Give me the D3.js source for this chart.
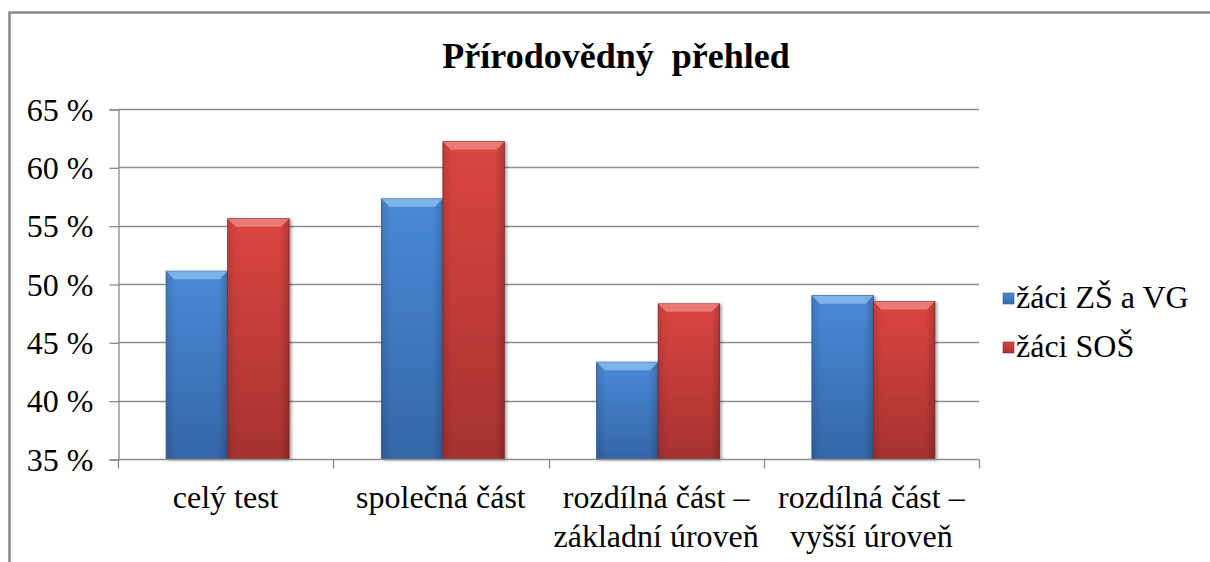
<!DOCTYPE html>
<html>
<head>
<meta charset="utf-8">
<script src="https://cdn.jsdelivr.net/npm/d3@7"></script>
<style>
  body { margin: 0; background: #fff; }
  svg text { font-family: "Liberation Serif", "Times New Roman", serif; fill: #000; }
</style>
</head>
<body>
<script>
// data
var title = "Přírodovědný  přehled";
var categories = [["celý test"], ["společná část"], ["rozdílná část –", "základní úroveň"], ["rozdílná část –", "vyšší úroveň"]];
var seriesNames = ["žáci ZŠ a VG", "žáci SOŠ"];
var zsValues = [51.1, 57.3, 43.3, 49.0];
var sosValues = [55.6, 62.2, 48.3, 48.5];
var yTicks = [35, 40, 45, 50, 55, 60, 65];

var width = 1210, height = 562;
var FONT = "Liberation Serif";
var svg = d3.select("body").append("svg")
    .attr("width", width).attr("height", height);

var defs = svg.append("defs");
var colors = [
  {id: "blue", top: "#4a89d6", bot: "#3566a8", edge: "#2d5a97", bevel: "#8fc1f2"},
  {id: "red", top: "#db4542", bot: "#a73230", edge: "#8f2a28", bevel: "#f08c88"}
];
colors.forEach(function(c){
  var g = defs.append("linearGradient").attr("id", "g_" + c.id)
      .attr("x1", 0).attr("y1", 0).attr("x2", 0).attr("y2", 1);
  g.append("stop").attr("offset", "0%").attr("stop-color", c.top);
  g.append("stop").attr("offset", "100%").attr("stop-color", c.bot);
  var h = defs.append("linearGradient").attr("id", "h_" + c.id)
      .attr("x1", 0).attr("y1", 0).attr("x2", 1).attr("y2", 0);
  h.append("stop").attr("offset", "0%").attr("stop-color", "#000").attr("stop-opacity", 0.12);
  h.append("stop").attr("offset", "15%").attr("stop-color", "#000").attr("stop-opacity", 0);
  h.append("stop").attr("offset", "85%").attr("stop-color", "#000").attr("stop-opacity", 0);
  h.append("stop").attr("offset", "100%").attr("stop-color", "#000").attr("stop-opacity", 0.18);
});
var f = defs.append("filter").attr("id", "shadow")
    .attr("x", "-10%").attr("y", "-10%").attr("width", "130%").attr("height", "120%");
f.append("feDropShadow").attr("dx", 2).attr("dy", 1).attr("stdDeviation", 1.5)
    .attr("flood-color", "#000").attr("flood-opacity", 0.35);

// frame
svg.append("path")
    .attr("d", "M9.5," + height + "V12.5H" + width)
    .attr("fill", "none").attr("stroke", "#888").attr("stroke-width", 2.5);

// title
svg.append("text")
    .attr("x", 616).attr("y", 68)
    .attr("text-anchor", "middle")
    .attr("font-family", FONT)
    .attr("font-size", 36).attr("font-weight", "bold")
    .style("white-space", "pre")
    .text(title);

var pLeft = 118, pRight = 979, pTop = 109, pBottom = 459;

var y = d3.scaleLinear().domain([35, 65]).range([pBottom, pTop]);
var x0 = d3.scaleBand().domain(d3.range(categories.length)).range([pLeft, pRight]);
var bw = x0.bandwidth() / 3.5;
var x1 = d3.scaleBand().domain([0, 1])
    .range([x0.bandwidth() * 0.75 / 3.5 + 2, x0.bandwidth() * 0.75 / 3.5 + 2 + 2 * bw]);

// gridlines
svg.append("g").selectAll("line").data(yTicks.slice(1)).join("line")
    .attr("x1", pLeft).attr("x2", pRight)
    .attr("y1", function(d){ return Math.round(y(d)) + 0.5; })
    .attr("y2", function(d){ return Math.round(y(d)) + 0.5; })
    .attr("stroke", "#8c8c8c").attr("stroke-width", 1.3);

// y axis
var yAxis = svg.append("g").attr("transform", "translate(" + (pLeft + 0.5) + ",0.5)")
    .call(d3.axisLeft(y).tickValues(yTicks).tickSize(9).tickPadding(16)
      .tickFormat(function(d){ return d + " %"; }));
yAxis.attr("font-family", FONT).attr("font-size", 32);
yAxis.select(".domain").attr("stroke", "#8c8c8c").attr("stroke-width", 1.3);
yAxis.selectAll(".tick line").attr("stroke", "#8c8c8c").attr("stroke-width", 1.3);
yAxis.selectAll(".tick text").attr("fill", "#000").attr("dy", "0.33em");

// bars
var rows = categories.map(function(c, i){ return [zsValues[i], sosValues[i]]; });
var groups = svg.append("g").selectAll("g").data(rows).join("g")
    .attr("transform", function(d, i){ return "translate(" + x0(i) + ",0)"; });

var bars = groups.selectAll("g").data(function(d){ return d; }).join("g")
    .attr("filter", "url(#shadow)");
bars.append("rect")
    .attr("x", function(d, j){ return x1(j); })
    .attr("y", function(d){ return y(d); })
    .attr("width", bw)
    .attr("height", function(d){ return pBottom - y(d); })
    .attr("fill", function(d, j){ return "url(#g_" + colors[j].id + ")"; })
    .attr("stroke", function(d, j){ return colors[j].edge; })
    .attr("stroke-width", 0.8);
bars.append("rect")
    .attr("x", function(d, j){ return x1(j); })
    .attr("y", function(d){ return y(d); })
    .attr("width", bw)
    .attr("height", function(d){ return pBottom - y(d); })
    .attr("fill", function(d, j){ return "url(#h_" + colors[j].id + ")"; });
// bevel on top
bars.append("path")
    .attr("d", function(d, j){
      var xa = x1(j), xb = x1(j) + bw, yt = y(d), b = 8;
      return "M" + xa + "," + yt + "H" + xb + "L" + (xb - b) + "," + (yt + b) + "H" + (xa + b) + "Z";
    })
    .attr("fill", function(d, j){ return colors[j].bevel; })
    .attr("opacity", 0.75);

// x axis
var xAxis = svg.append("g").attr("transform", "translate(0," + (pBottom + 0.5) + ")");
xAxis.append("line").attr("x1", pLeft).attr("x2", pRight)
    .attr("stroke", "#8c8c8c").attr("stroke-width", 1.3);
xAxis.selectAll("line.tk").data(d3.range(categories.length + 1)).join("line")
    .attr("class", "tk")
    .attr("x1", function(i){ return Math.round(pLeft + i * x0.step()) + 0.5; })
    .attr("x2", function(i){ return Math.round(pLeft + i * x0.step()) + 0.5; })
    .attr("y1", 0).attr("y2", 9)
    .attr("stroke", "#8c8c8c").attr("stroke-width", 1.3);
var lbl = xAxis.selectAll("text").data(categories).join("text")
    .attr("text-anchor", "middle")
    .attr("font-family", FONT)
    .attr("font-size", 32)
    .attr("transform", function(d, i){ return "translate(" + (x0(i) + x0.bandwidth() / 2) + ",0)"; });
lbl.selectAll("tspan").data(function(d){ return d; }).join("tspan")
    .attr("x", 0)
    .attr("y", function(d, k){ return 48 + k * 39; })
    .text(function(d){ return d; });

// legend
var legend = svg.append("g").selectAll("g").data(seriesNames).join("g")
    .attr("transform", function(d, i){ return "translate(1003," + (298 + i * 49) + ")"; });
legend.append("rect")
    .attr("x", 0).attr("y", -5).attr("width", 11).attr("height", 11)
    .attr("fill", function(d, i){ return "url(#g_" + colors[i].id + ")"; })
    .attr("stroke", function(d, i){ return colors[i].edge; }).attr("stroke-width", 0.6);
legend.append("text")
    .attr("x", 13).attr("y", 10)
    .attr("font-family", FONT)
    .attr("font-size", 32)
    .text(function(d){ return d; });
</script>
</body>
</html>
